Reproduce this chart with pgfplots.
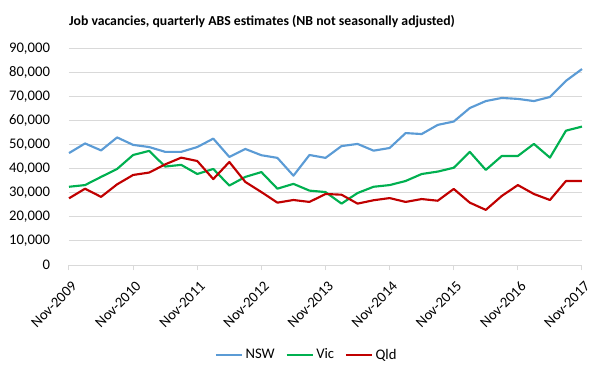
\documentclass[border=0pt]{standalone}
\usepackage{pgfplots}
\pgfplotsset{compat=1.18}
\usepackage{fontspec}
\setmainfont{Carlito}
\definecolor{nsw}{HTML}{5B9BD5}
\definecolor{vic}{HTML}{00B050}
\definecolor{qld}{HTML}{C00000}
\definecolor{gridgray}{HTML}{D9D9D9}
\begin{document}
\begin{tikzpicture}
\path[use as bounding box] (0,0) rectangle (456pt,284.25pt);
\node[font=\fontsize{10.3}{12}\selectfont\bfseries] at (196.5pt,267.75pt) {Job vacancies, quarterly ABS estimates (NB not seasonally adjusted)};
\begin{axis}[
  at={(51.75pt,85.5pt)}, anchor=south west,
  scale only axis, width=384.75pt, height=162.5pt,
  xmin=0, xmax=32, ymin=0, ymax=90000,
  axis x line*=bottom, axis y line*=left,
  x axis line style={draw=gridgray, line width=0.75pt, -},
  y axis line style={draw=none},
  xtick={0,4,...,32},
  xticklabels={Nov-2009,Nov-2010,Nov-2011,Nov-2012,Nov-2013,Nov-2014,Nov-2015,Nov-2016,Nov-2017},
  x tick style={draw=gridgray, line width=0.75pt},
  tick align=outside, major tick length=3.75pt,
  xticklabel style={rotate=45, anchor=north east, font=\fontsize{11}{13}\selectfont, inner sep=1pt, yshift=-5.5pt, xshift=-3.5pt},
  ytick={0,10000,...,90000},
  ymajorgrids, xmajorgrids=false,
  y grid style={draw=gridgray, line width=0.75pt},
  y tick style={draw=none},
  yticklabel style={font=\fontsize{11}{13}\selectfont, xshift=-7pt},
  scaled y ticks=false,
  /pgf/number format/.cd, 1000 sep={,}, assume math mode=true,
  /pgfplots/.cd,
  legend style={at={(0.464,-0.415)}, anchor=center, draw=none, legend columns=3,
    font=\fontsize{11}{13}\selectfont, /tikz/every even column/.append style={column sep=6pt}},
  legend image code/.code={\draw[#1] (0pt,0pt) -- (19.5pt,0pt);},
  every axis plot/.append style={line width=1.6pt, mark=none, line join=round},
  clip=false,
]
\addplot[nsw] coordinates {
(0,46500)(1,50500)(2,47600)(3,53000)(4,49900)(5,49000)(6,47000)(7,47000)(8,49000)(9,52500)
(10,44900)(11,48200)(12,45600)(13,44500)(14,37100)(15,45700)(16,44500)(17,49400)(18,50300)(19,47500)
(20,48600)(21,54800)(22,54400)(23,58200)(24,59600)(25,65200)(26,68100)(27,69400)(28,69000)(29,68100)
(30,69800)(31,76500)(32,81400)};
\addlegendentry{NSW}
\addplot[vic] coordinates {
(0,32500)(1,33200)(2,36600)(3,39900)(4,45700)(5,47400)(6,40900)(7,41600)(8,37800)(9,39900)
(10,33000)(11,36600)(12,38600)(13,31700)(14,33700)(15,30900)(16,30300)(17,25500)(18,29900)(19,32500)
(20,33200)(21,34900)(22,37800)(23,38800)(24,40400)(25,47000)(26,39500)(27,45300)(28,45300)(29,50300)
(30,44600)(31,55800)(32,57500)};
\addlegendentry{Vic}
\addplot[qld] coordinates {
(0,27700)(1,31700)(2,28300)(3,33500)(4,37400)(5,38400)(6,41800)(7,44600)(8,43200)(9,35700)
(10,42800)(11,34500)(12,30300)(13,25900)(14,27000)(15,26200)(16,29500)(17,29200)(18,25500)(19,26900)
(20,27800)(21,26200)(22,27400)(23,26700)(24,31600)(25,25900)(26,22900)(27,28700)(28,33200)(29,29500)
(30,27000)(31,34900)(32,34900)};
\addlegendentry{Qld}
\end{axis}
\end{tikzpicture}
\end{document}
